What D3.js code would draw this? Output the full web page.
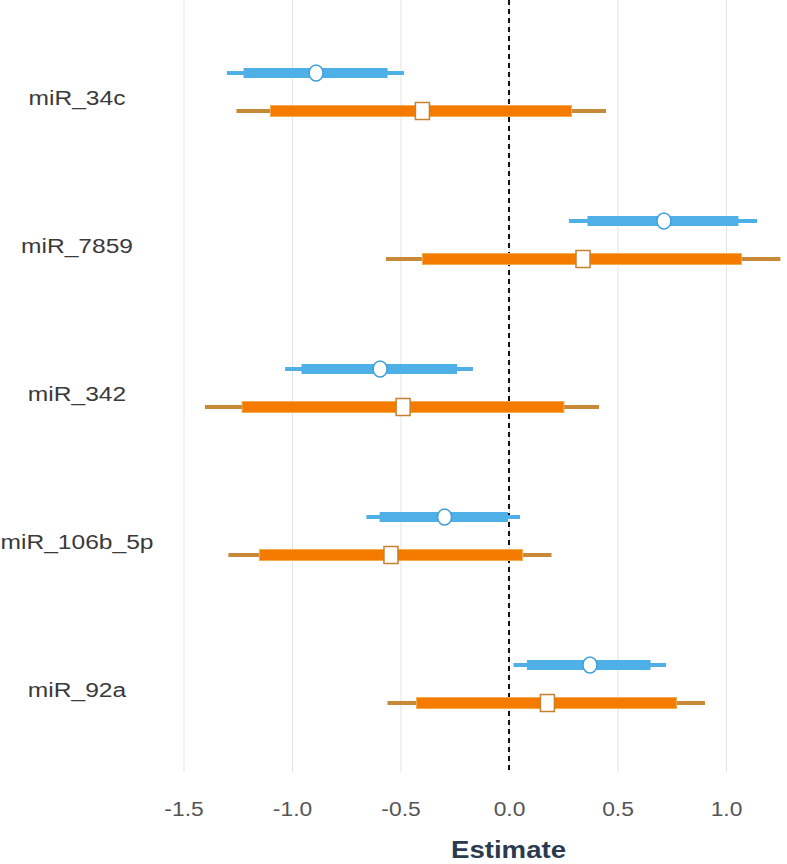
<!DOCTYPE html>
<html>
<head>
<meta charset="utf-8">
<script src="https://cdn.jsdelivr.net/npm/d3@7"></script>
<style>
  html, body { margin: 0; padding: 0; background: #fff; }
  svg { display: block; font-family: "Liberation Sans", Arial, sans-serif; }
</style>
</head>
<body>
<svg id="chart" width="787" height="864"></svg>
<script>
// ---- data ----
const categories = ["miR_34c", "miR_7859", "miR_342", "miR_106b_5p", "miR_92a"];
const seriesNames = ["blue", "orange"];

const blueEst      = [-0.889, 0.714, -0.594, -0.297, 0.373];
const blueOuterLo  = [-1.300, 0.276, -1.032, -0.657, 0.021];
const blueOuterHi  = [-0.484, 1.143, -0.166, 0.051, 0.724];
const blueInnerLo  = [-1.221, 0.364, -0.954, -0.594, 0.085];
const blueInnerHi  = [-0.562, 1.055, -0.242, -0.007, 0.650];

const orangeEst     = [-0.399, 0.341, -0.488, -0.544, 0.177];
const orangeOuterLo = [-1.256, -0.567, -1.401, -1.293, -0.560];
const orangeOuterHi = [0.447, 1.251, 0.415, 0.196, 0.903];
const orangeInnerLo = [-1.099, -0.399, -1.230, -1.150, -0.426];
const orangeInnerHi = [0.288, 1.071, 0.253, 0.062, 0.772];

const xTicks = [-1.5, -1.0, -0.5, 0.0, 0.5, 1.0];
const xTickLabels = ["-1.5", "-1.0", "-0.5", "0.0", "0.5", "1.0"];
const xTitle = "Estimate";

// ---- layout ----
const svg = d3.select("#chart");
const plotTop = 0, plotBottom = 772;
const x = d3.scaleLinear().domain([-1.5, 1.0]).range([183.5, 726]);
const y = d3.scaleBand().domain(categories).range([18, 758]).padding(0);
const sub = d3.scalePoint().domain(seriesNames).range([-19, 19]);
const TEXT_STRETCH = 1.17;

// gridlines
const grid = svg.append("g").attr("transform", `translate(0,${plotBottom})`)
  .call(d3.axisBottom(x).tickValues(xTicks).tickSize(-(plotBottom - plotTop)).tickFormat(""));
grid.select(".domain").remove();
grid.selectAll("line").attr("stroke", "#e3e3e3").attr("stroke-width", 1);

// zero reference line
svg.append("line")
  .attr("x1", x(0)).attr("x2", x(0))
  .attr("y1", plotTop).attr("y2", plotBottom)
  .attr("stroke", "#111").attr("stroke-width", 2)
  .attr("stroke-dasharray", "5,4");

// x axis labels
const xa = svg.append("g").attr("transform", `translate(0,${plotBottom})`)
  .call(d3.axisBottom(x).tickValues(xTicks).tickSize(0).tickPadding(0)
    .tickFormat((d, i) => xTickLabels[i]));
xa.select(".domain").remove();
xa.selectAll("text")
  .attr("y", 44).attr("dy", 0)
  .attr("font-size", 19.5).attr("fill", "#555")
  .attr("font-family", "Liberation Sans, Arial, sans-serif")
  .attr("transform", `scale(${TEXT_STRETCH},1)`);

svg.append("text")
  .attr("transform", `translate(${x(0) - 0.5},858) scale(1.15,1)`)
  .attr("text-anchor", "middle")
  .attr("font-size", 24).attr("font-weight", "bold").attr("fill", "#2b3a4e")
  .text(xTitle);

// y labels
svg.append("g").selectAll("text").data(categories).join("text")
  .attr("transform", d => `translate(77,${y(d) + y.bandwidth() / 2 + 13}) scale(${TEXT_STRETCH},1)`)
  .attr("text-anchor", "middle")
  .attr("font-size", 21).attr("fill", "#3a3a3a")
  .text(d => d);

// marks
const rows = categories.map((c, i) => ({
  cat: c,
  blue: { est: blueEst[i], olo: blueOuterLo[i], ohi: blueOuterHi[i], ilo: blueInnerLo[i], ihi: blueInnerHi[i] },
  orange: { est: orangeEst[i], olo: orangeOuterLo[i], ohi: orangeOuterHi[i], ilo: orangeInnerLo[i], ihi: orangeInnerHi[i] }
}));

const cy = (d, s) => y(d.cat) + y.bandwidth() / 2 + sub(s);

const style = {
  blue:   { thin: "#4fb0e8", thinW: 4, thick: "#4fb0e8", thickH: 9, edge: "#4fb0e8" },
  orange: { thin: "#c9893a", thinW: 4, thick: "#f47a00", thickH: 11, edge: "#f0ad4a" }
};

const marks = svg.append("g");
seriesNames.forEach(s => {
  const st = style[s];
  const g = marks.append("g");
  g.selectAll("line.thin").data(rows).join("line")
    .attr("x1", d => x(d[s].olo)).attr("x2", d => x(d[s].ohi))
    .attr("y1", d => cy(d, s)).attr("y2", d => cy(d, s))
    .attr("stroke", st.thin).attr("stroke-width", st.thinW);
  g.selectAll("rect.thick").data(rows).join("rect")
    .attr("x", d => x(d[s].ilo)).attr("width", d => x(d[s].ihi) - x(d[s].ilo))
    .attr("y", d => cy(d, s) - st.thickH / 2).attr("height", st.thickH)
    .attr("fill", st.thick).attr("stroke", st.edge).attr("stroke-width", 1);
});

// point estimates
marks.append("g").selectAll("ellipse").data(rows).join("ellipse")
  .attr("cx", d => x(d.blue.est)).attr("cy", d => cy(d, "blue"))
  .attr("rx", 7).attr("ry", 8)
  .attr("fill", "#fff").attr("stroke", "#3f9fd8").attr("stroke-width", 1.5);

marks.append("g").selectAll("rect").data(rows).join("rect")
  .attr("x", d => x(d.orange.est) - 7).attr("y", d => cy(d, "orange") - 8.5)
  .attr("width", 14).attr("height", 17)
  .attr("fill", "#fff").attr("stroke", "#c8812e").attr("stroke-width", 1.5);
</script>
</body>
</html>
